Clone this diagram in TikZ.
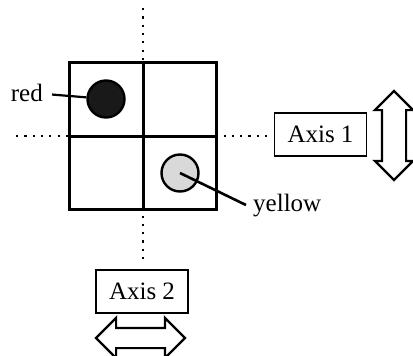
\documentclass[tikz,border=0pt]{standalone}
\usepackage{fontspec}
\setmainfont{Liberation Serif}
\usetikzlibrary{shapes.arrows}

\begin{document}
\begin{tikzpicture}[x=1pt,y=-1pt,
    grid line/.style={line width=3pt},
    axis line/.style={line width=2.2pt,dash pattern=on 2.2pt off 6.1pt},
    dot node/.style={circle,draw,line width=2.4pt,minimum size=37pt,inner sep=0pt},
    axis node/.style={draw,line width=1.5pt,minimum width=92pt,minimum height=43pt,inner sep=0pt,font=\fontsize{25}{30}\selectfont},
    move node/.style={double arrow,draw,line width=2.2pt,inner xsep=0pt,double arrow head extend=#1},
    label node/.style={font=\fontsize{25}{30}\selectfont,inner ysep=0pt}]
    \useasboundingbox (0,0) rectangle (413,356);
    % dotted axes
    \coordinate (h1) at (16,136);
    \coordinate (h2) at (267,136);
    \coordinate (v1) at (143,8);
    \coordinate (v2) at (143,260);
    \draw[axis line] (h1) -- (h2);
    \draw[axis line] (v1) -- (v2);
    % the four cells
    \draw[grid line,fill=white] (69,62) rectangle (216,209);
    \draw[grid line] (69,136) -- (216,136) (143,62) -- (143,209);

    \node[dot node,fill=black!90] (red) at (106,99) {};
    \node[dot node,fill=gray!30] (yellow) at (180,173) {};
    \node[label node,inner xsep=9pt,anchor=base east] (redlabel) at (52,101) {red};
    \node[label node,inner xsep=7pt,anchor=base west] (yellowlabel) at (246,211) {yellow};

    \node[axis node] (axis1) at (320.5,134.5) {Axis 1};
    \node[axis node] (axis2) at (142,291.5) {Axis 2};
    \node[move node=7pt,inner ysep=11pt,minimum height=89pt,rotate=90] (move1) at (394,135.5) {};
    \node[move node=10pt,inner ysep=9pt,minimum height=89pt] (move2) at (140.5,338) {};

    \draw[line width=2.2pt] (redlabel) -- (red);
    \draw[line width=2.6pt] (yellow.center) -- (yellowlabel.west);
\end{tikzpicture}
\end{document}
